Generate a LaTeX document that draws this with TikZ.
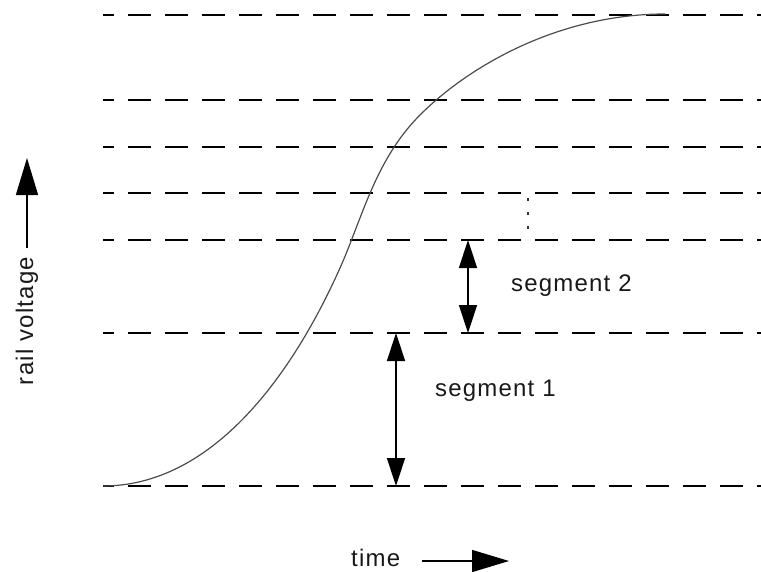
\documentclass[tikz,border=0pt]{standalone}
\usepackage{fontspec}
\setmainfont{Liberation Sans}[LetterSpace=5]
\usetikzlibrary{arrows.meta}
\begin{document}
\begin{tikzpicture}[x=1pt,y=-1pt,
  level/.style={line width=2pt, dash pattern=on 23pt off 14pt, dash phase=12pt, black},
  bigarrow/.style={line width=1.5pt, -{Triangle[length=37pt,width=22pt]}},
  segarrow/.style={line width=1.5pt, {Triangle[length=28pt,width=18pt]}-{Triangle[length=28pt,width=18pt]}},
  lbl/.style={font=\fontsize{24}{27}\selectfont, inner sep=0pt, text=black!90}]
\useasboundingbox (0,0) rectangle (761,571);
% level lines
\foreach \yy/\nm in {15/l1,100/l2,147/l3,193/l4,240/l5,333/l6,486/l7}{
  \coordinate (\nm a) at (103,\yy);
  \coordinate (\nm b) at (761,\yy);
  \draw[level] (\nm a) -- (\nm b);
}
% curve
\draw[line width=1.2pt, black!70] (103,486) .. controls (210,486) and (290,380) .. (340,268)
  .. controls (362,219) and (375,160) .. (420,115)
  .. controls (470,65) and (560,14) .. (665,14);
% segment arrows
\coordinate (s2t) at (468,240);
\coordinate (s2b) at (468,333);
\draw[segarrow] (s2t) -- (s2b);
\coordinate (s1t) at (396,333);
\coordinate (s1b) at (396,486);
\draw[segarrow] (s1t) -- (s1b);
\node[lbl, anchor=west] (seg2) at (511,286) {segment 2};
\node[lbl, anchor=west] (seg1) at (435,391) {segment 1};
% dotted marker
\coordinate (dt) at (528,198);
\coordinate (db) at (528,237);
\draw[line width=1.6pt, dash pattern=on 3pt off 11pt, black!80] (dt) -- (db);
% axes labels
\node[lbl, rotate=90] (rv) at (27,321) {rail voltage};
\coordinate (rvs) at (27,248);
\coordinate (rve) at (27,158);
\draw[bigarrow] (rvs) -- (rve);
\node[lbl, anchor=west] (tm) at (351,558) {time};
\coordinate (tms) at (422,561);
\coordinate (tme) at (509,561);
\draw[bigarrow] (tms) -- (tme);
\end{tikzpicture}
\end{document}
